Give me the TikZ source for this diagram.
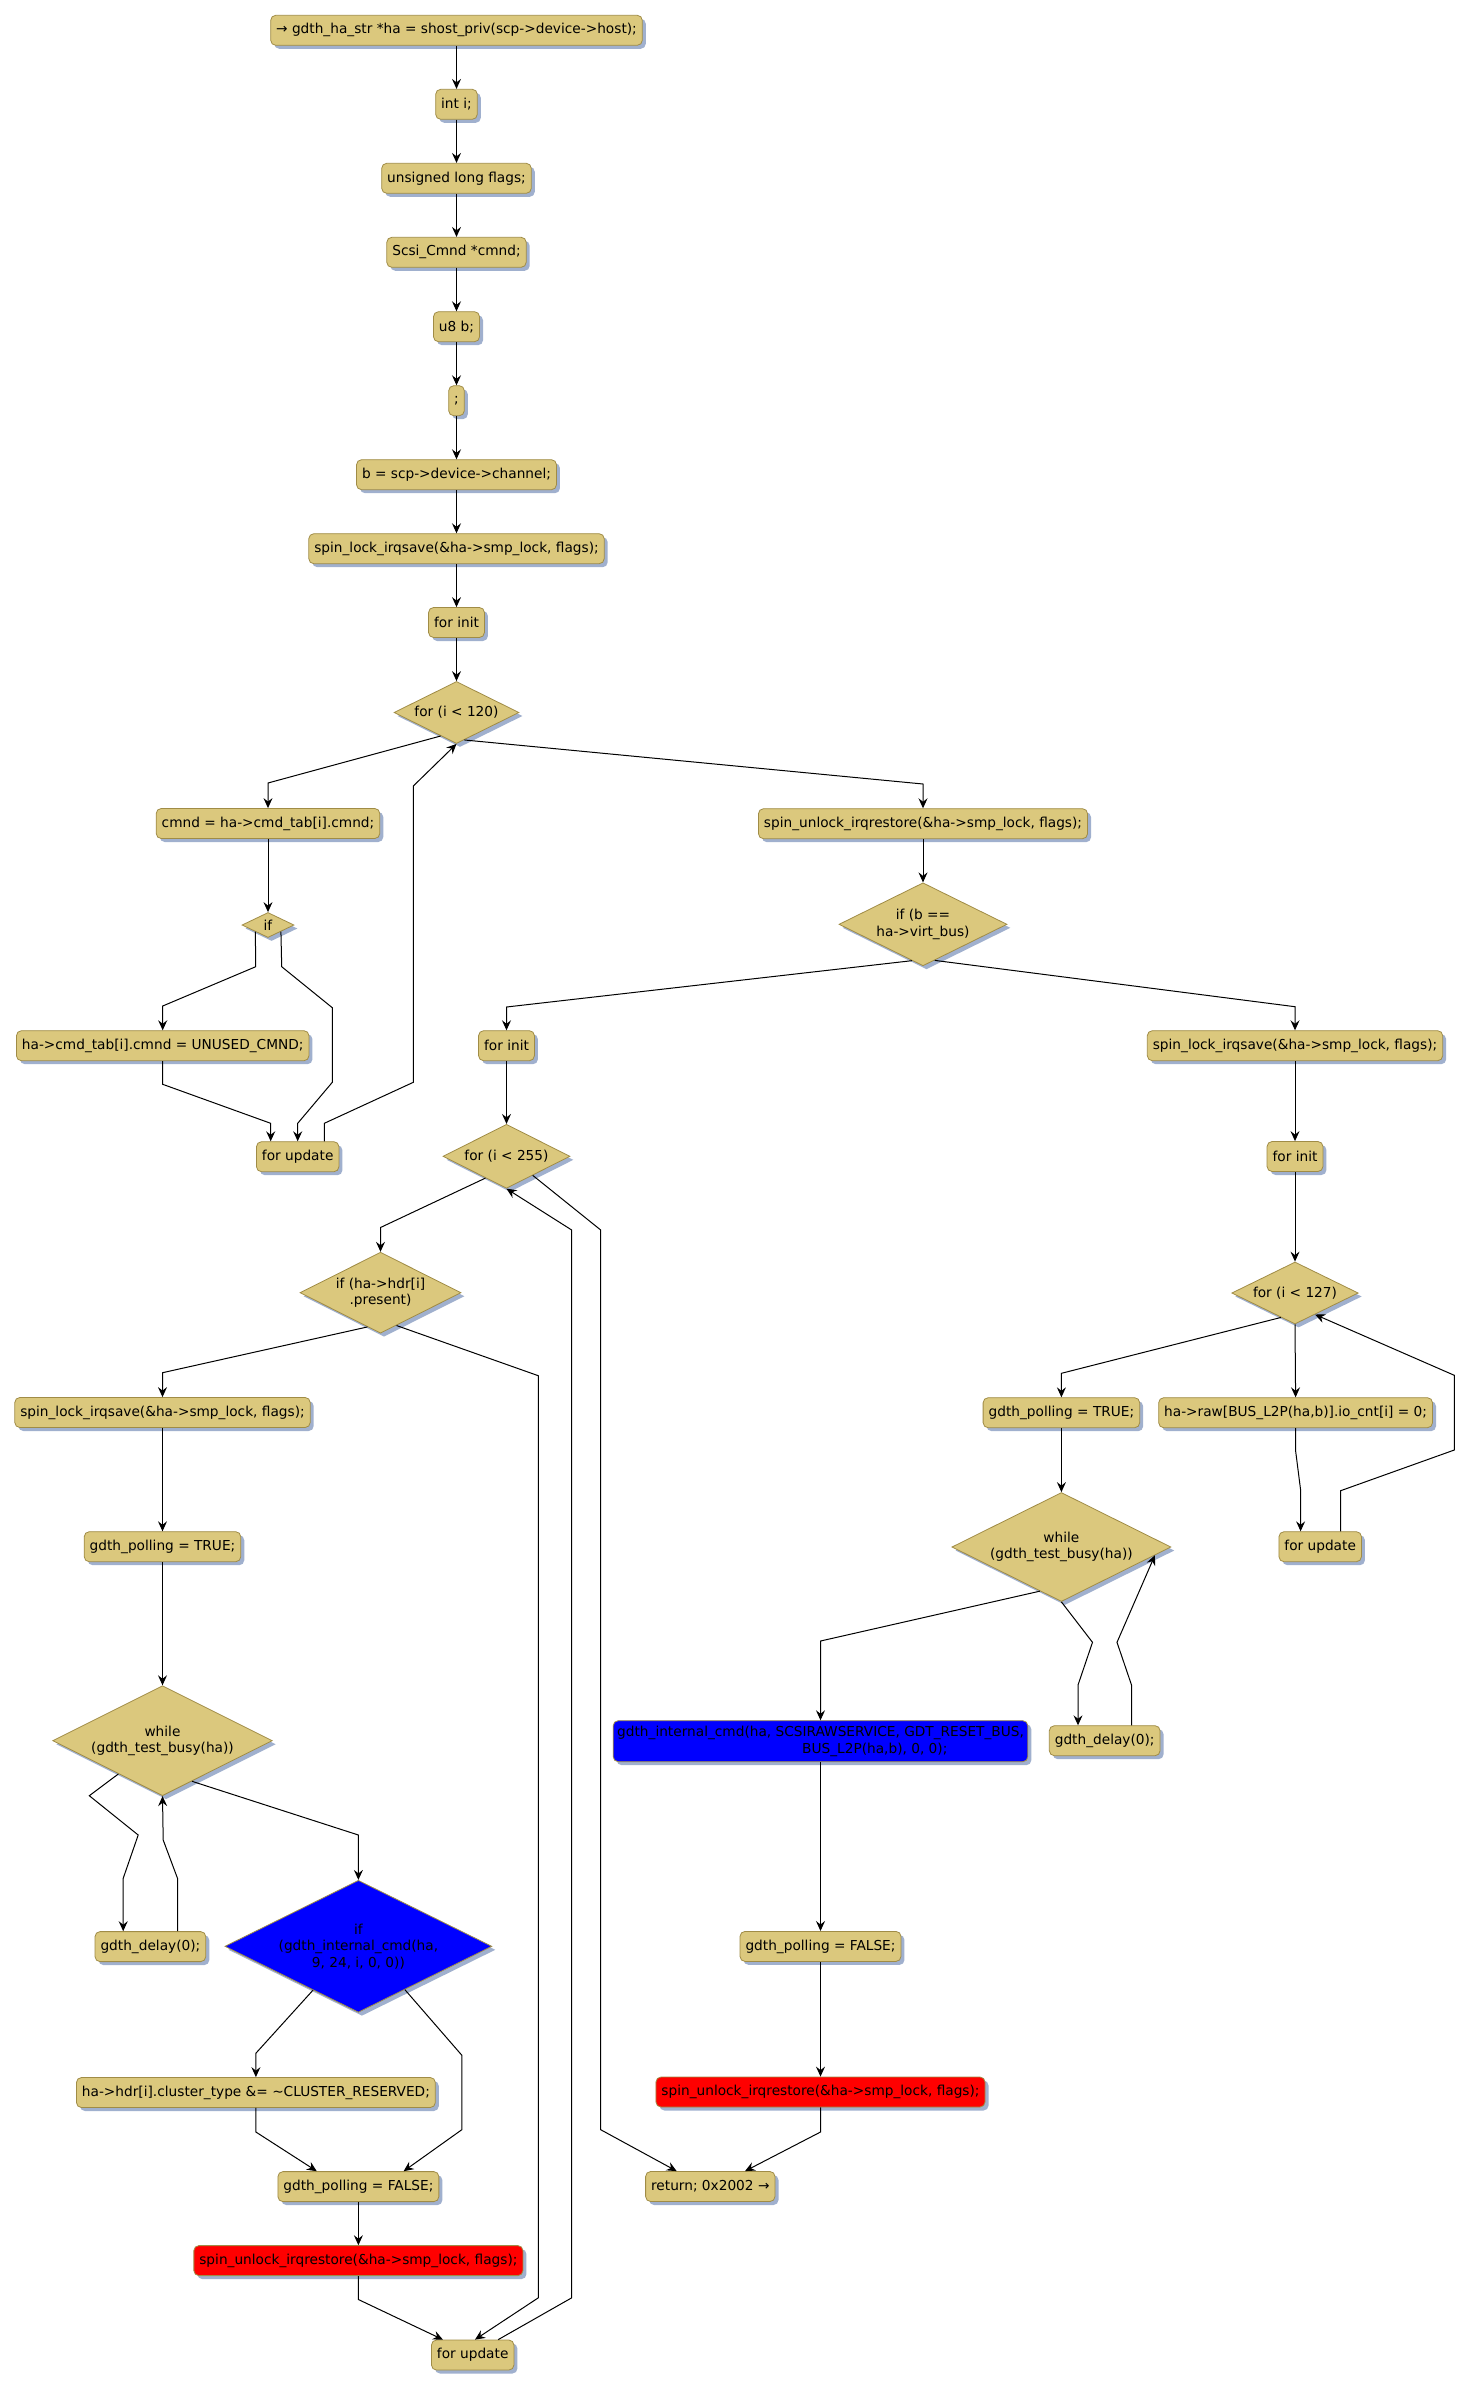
\documentclass[tikz,border=0pt]{standalone}
\usepackage{fontspec}
\setmainfont{DejaVu Sans}
\usetikzlibrary{shapes.geometric,arrows.meta,shadows,calc}
\definecolor{tanfill}{RGB}{219,200,125}
\definecolor{tanedge}{RGB}{160,140,70}
\definecolor{shadowc}{RGB}{160,176,206}
\begin{document}
\begin{tikzpicture}[x=1pt,y=-1pt,
  shad/.style={drop shadow={shadow xshift=3.5pt,shadow yshift=-3.5pt,fill=shadowc,opacity=1}},
  box/.style={rectangle,rounded corners=5pt,draw=tanedge,line width=0.8pt,fill=tanfill,
    inner xsep=5.5pt,inner ysep=0pt,minimum height=30pt,align=center,
    font=\fontsize{13.7pt}{16.5pt}\selectfont,shad},
  dia/.style={diamond,draw=tanedge,line width=0.8pt,fill=tanfill,inner sep=0pt,align=center,
    font=\fontsize{13.7pt}{16.5pt}\selectfont,shad},
  conn/.style={draw=black,line width=1pt,-{Stealth[length=10pt,width=9pt,inset=3.5pt]}}]
\fill[white] (0,0) rectangle (1470,2388);
\useasboundingbox (0,0) rectangle (1470,2388);

% main column
\node[box] (n_entry) at (456.5,30.3) {→ gdth\_ha\_str *ha = shost\_priv(scp->device->host);};
\node[box] (n_int) at (456.5,104.3) {int i;};
\node[box] (n_flags) at (456.5,178.3) {unsigned long flags;};
\node[box] (n_cmnd) at (456.5,252.3) {Scsi\_Cmnd *cmnd;};
\node[box] (n_u8) at (456.5,326.7) {u8 b;};
\node[box] (n_semi) at (456.5,400.7) {;};
\node[box] (n_b) at (456.5,474.7) {b = scp->device->channel;};
\node[box] (n_lock1) at (456.5,548.7) {spin\_lock\_irqsave(\&ha->smp\_lock, flags);};
\node[box] (n_init1) at (456.5,622.5) {for init};
\node[dia,minimum width=125pt,minimum height=62pt,aspect=2] (d_for120) at (456.5,712.5) {for (i < 120)};

% first loop
\node[box] (n_cmd) at (268,823.5) {cmnd = ha->cmd\_tab[i].cmnd;};
\node[dia,minimum width=52pt,minimum height=25pt,aspect=2] (d_if) at (268,925) {if};
\node[box] (n_unused) at (162.7,1045.7) {ha->cmd\_tab[i].cmnd = UNUSED\_CMND;};
\node[box] (n_upd1) at (297.7,1156.7) {for update};

% right part
\node[box] (n_unlock1) at (923,823.7) {spin\_unlock\_irqrestore(\&ha->smp\_lock, flags);};
\node[dia,minimum width=168pt,minimum height=83pt,aspect=2] (d_ifb) at (923,924.3) {if (b ==\\ha->virt\_bus)};
\node[box] (n_init2) at (506.5,1045.7) {for init};
\node[box] (n_lock2) at (1295,1045.7) {spin\_lock\_irqsave(\&ha->smp\_lock, flags);};
\node[dia,minimum width=127pt,minimum height=64pt,aspect=2] (d_for255) at (506.5,1156.3) {for (i < 255)};
\node[box] (n_init3) at (1295,1156.5) {for init};
\node[dia,minimum width=161pt,minimum height=81pt,aspect=2] (d_ifhdr) at (380.5,1292.7) {if (ha->hdr[i]\\.present)};
\node[dia,minimum width=126.5pt,minimum height=62pt,aspect=2] (d_for127) at (1295,1293) {for (i < 127)};
\node[box] (n_lock3) at (162.5,1412.5) {spin\_lock\_irqsave(\&ha->smp\_lock, flags);};
\node[box] (n_true1) at (162.5,1546.7) {gdth\_polling = TRUE;};
\node[box] (n_true2) at (1061.4,1412.7) {gdth\_polling = TRUE;};
\node[box] (n_raw) at (1295.6,1412.7) {ha->raw[BUS\_L2P(ha,b)].io\_cnt[i] = 0;};
\node[box] (n_upd3) at (1320.2,1546.7) {for update};
\node[dia,minimum width=219pt,minimum height=109pt,aspect=2] (d_while2) at (1061.4,1547) {while\\(gdth\_test\_busy(ha))};
\node[dia,minimum width=219.6pt,minimum height=110pt,aspect=2] (d_while1) at (162.5,1740.7) {while\\(gdth\_test\_busy(ha))};
\node[box,fill=blue,align=left,minimum height=41pt,inner xsep=4pt] (n_internal) at (820.5,1741.2)
  {gdth\_internal\_cmd(ha, SCSIRAWSERVICE, GDT\_RESET\_BUS,\\\hspace*{185pt}BUS\_L2P(ha,b), 0, 0);};
\node[box] (n_delay2) at (1104.7,1740.7) {gdth\_delay(0);};
\node[box] (n_delay1) at (150.4,1946.6) {gdth\_delay(0);};
\node[dia,fill=blue,minimum width=267pt,minimum height=132pt,aspect=2] (d_ifint) at (358.4,1946.3) {if\\(gdth\_internal\_cmd(ha,\\9, 24, i, 0, 0))};
\node[box] (n_false2) at (820.5,1946.4) {gdth\_polling = FALSE;};
\node[box] (n_cluster) at (255.9,2092.5) {ha->hdr[i].cluster\_type \&= \textasciitilde{}CLUSTER\_RESERVED;};
\node[box,fill=red] (n_red2) at (820.5,2092) {spin\_unlock\_irqrestore(\&ha->smp\_lock, flags);};
\node[box] (n_false1) at (358.4,2186.6) {gdth\_polling = FALSE;};
\node[box] (n_ret) at (710.3,2186.5) {return; 0x2002 →};
\node[box,fill=red] (n_red1) at (358.4,2260.6) {spin\_unlock\_irqrestore(\&ha->smp\_lock, flags);};
\node[box] (n_upd2) at (472.7,2355) {for update};

% straight connectors
\draw[conn] (n_entry.south) -- (n_int.north);
\draw[conn] (n_int.south) -- (n_flags.north);
\draw[conn] (n_flags.south) -- (n_cmnd.north);
\draw[conn] (n_cmnd.south) -- (n_u8.north);
\draw[conn] (n_u8.south) -- (n_semi.north);
\draw[conn] (n_semi.south) -- (n_b.north);
\draw[conn] (n_b.south) -- (n_lock1.north);
\draw[conn] (n_lock1.south) -- (n_init1.north);
\draw[conn] (n_init1.south) -- (d_for120.north);
\draw[conn] (n_cmd.south) -- (d_if.north);
\draw[conn] (n_unlock1.south) -- (d_ifb.north);
\draw[conn] (n_init2.south) -- (d_for255.north);
\draw[conn] (n_lock2.south) -- (n_init3.north);
\draw[conn] (n_init3.south) -- (d_for127.north);
\draw[conn] (n_lock3.south) -- (n_true1.north);
\draw[conn] (n_true1.south) -- (d_while1.north);
\draw[conn] (n_true2.south) -- (d_while2.north);
\draw[conn] (d_for127.south) -- (n_raw.north);
\draw[conn] (n_internal.south) -- (n_false2.north);
\draw[conn] (n_false2.south) -- (n_red2.north);
\draw[conn] (n_false1.south) -- (n_red1.north);

% first loop
\draw[conn] (d_for120.-124) -- (268,783) -- (n_cmd.north);
\draw[conn] (d_for120.-74) -- (923,784) -- (n_unlock1.north);
\draw[conn] (d_if.-152) -- (255.7,966.7) -- (162.7,1006) -- (n_unused.north);
\draw[conn] (d_if.-27) -- (281.7,966.7) -- (332.3,1007.7) -- (332.3,1082.3) -- (297.7,1123.3) -- (n_upd1.north);
\draw[conn] (n_unused.south) -- (162.7,1084.3) -- (270.7,1123.3) -- ($(n_upd1.north)+(-27,0)$);
\draw[conn] ($(n_upd1.north)+(26.6,0)$) -- (324.3,1123.3) -- (413.3,1082.3) -- (413.3,786) -- (d_for120.south);

% virt bus branch
\draw[conn] (d_ifb.-107) -- (506.5,1007) -- (n_init2.north);
\draw[conn] (d_ifb.-72) -- (1295,1006.7) -- (n_lock2.north);

% for 255 loop
\draw[conn] (d_for255.-134) -- (380.5,1227.5) -- (d_ifhdr.north);
\draw[conn] (d_for255.-36) -- (600.7,1230) -- (600.7,2129.7) -- ($(n_ret.north)+(-33.6,0)$);
\draw[conn] ($(n_upd2.north)+(25.5,0)$) -- (571.7,2297.8) -- (571.7,1230) -- (d_for255.south);
\draw[conn] (d_ifhdr.-64) -- (538.3,1375.7) -- (538.3,2297.8) -- ($(n_upd2.north)+(2.3,0)$);
\draw[conn] (d_ifhdr.-111.5) -- (162.5,1372.7) -- (n_lock3.north);
\draw[conn] (d_while1.-143.4) -- (89.3,1795.7) -- (138.2,1835) -- (123.2,1878.3) -- ($(n_delay1.north)+(-27.2,0)$);
\draw[conn] ($(n_delay1.north)+(27.1,0)$) -- (177.5,1878.3) -- (163.2,1840) -- (d_while1.south);
\draw[conn] (d_while1.-54.2) -- (358.4,1835) -- (d_ifint.north);
\draw[conn] (d_ifint.-136.5) -- (255.9,2053.2) -- (n_cluster.north);
\draw[conn] (d_ifint.-43.5) -- (461.8,2055.2) -- (461.8,2129.7) -- ($(n_false1.north)+(45.2,0)$);
\draw[conn] (n_cluster.south) -- (255.9,2132) -- ($(n_false1.north)+(-41.6,0)$);
\draw[conn] (n_red1.south) -- (358.4,2299.5) -- ($(n_upd2.north)+(-29.8,0)$);

% for 127 loop
\draw[conn] (d_for127.-120.8) -- (1061.4,1373.3) -- (n_true2.north);
\draw[conn] (n_raw.south) -- (1295.5,1450) -- (1300.6,1490) -- ($(n_upd3.north)+(-19.6,0)$);
\draw[conn] ($(n_upd3.north)+(20.4,0)$) -- (1340.6,1490.7) -- (1454.3,1450) -- (1454.3,1375.3) -- (d_for127.-47);
\draw[conn] (d_while2.-116.5) -- (820.5,1641) -- (n_internal.north);
\draw[conn] (d_while2.south) -- (1092.5,1642.3) -- (1078,1685) -- ($(n_delay2.north)+(-26.7,0)$);
\draw[conn] ($(n_delay2.north)+(26.8,0)$) -- (1131.5,1685) -- (1117,1642.3) -- (d_while2.-5);
\draw[conn] (n_red2.south) -- (820.5,2132) -- ($(n_ret.north)+(34.7,0)$);
\end{tikzpicture}
\end{document}
